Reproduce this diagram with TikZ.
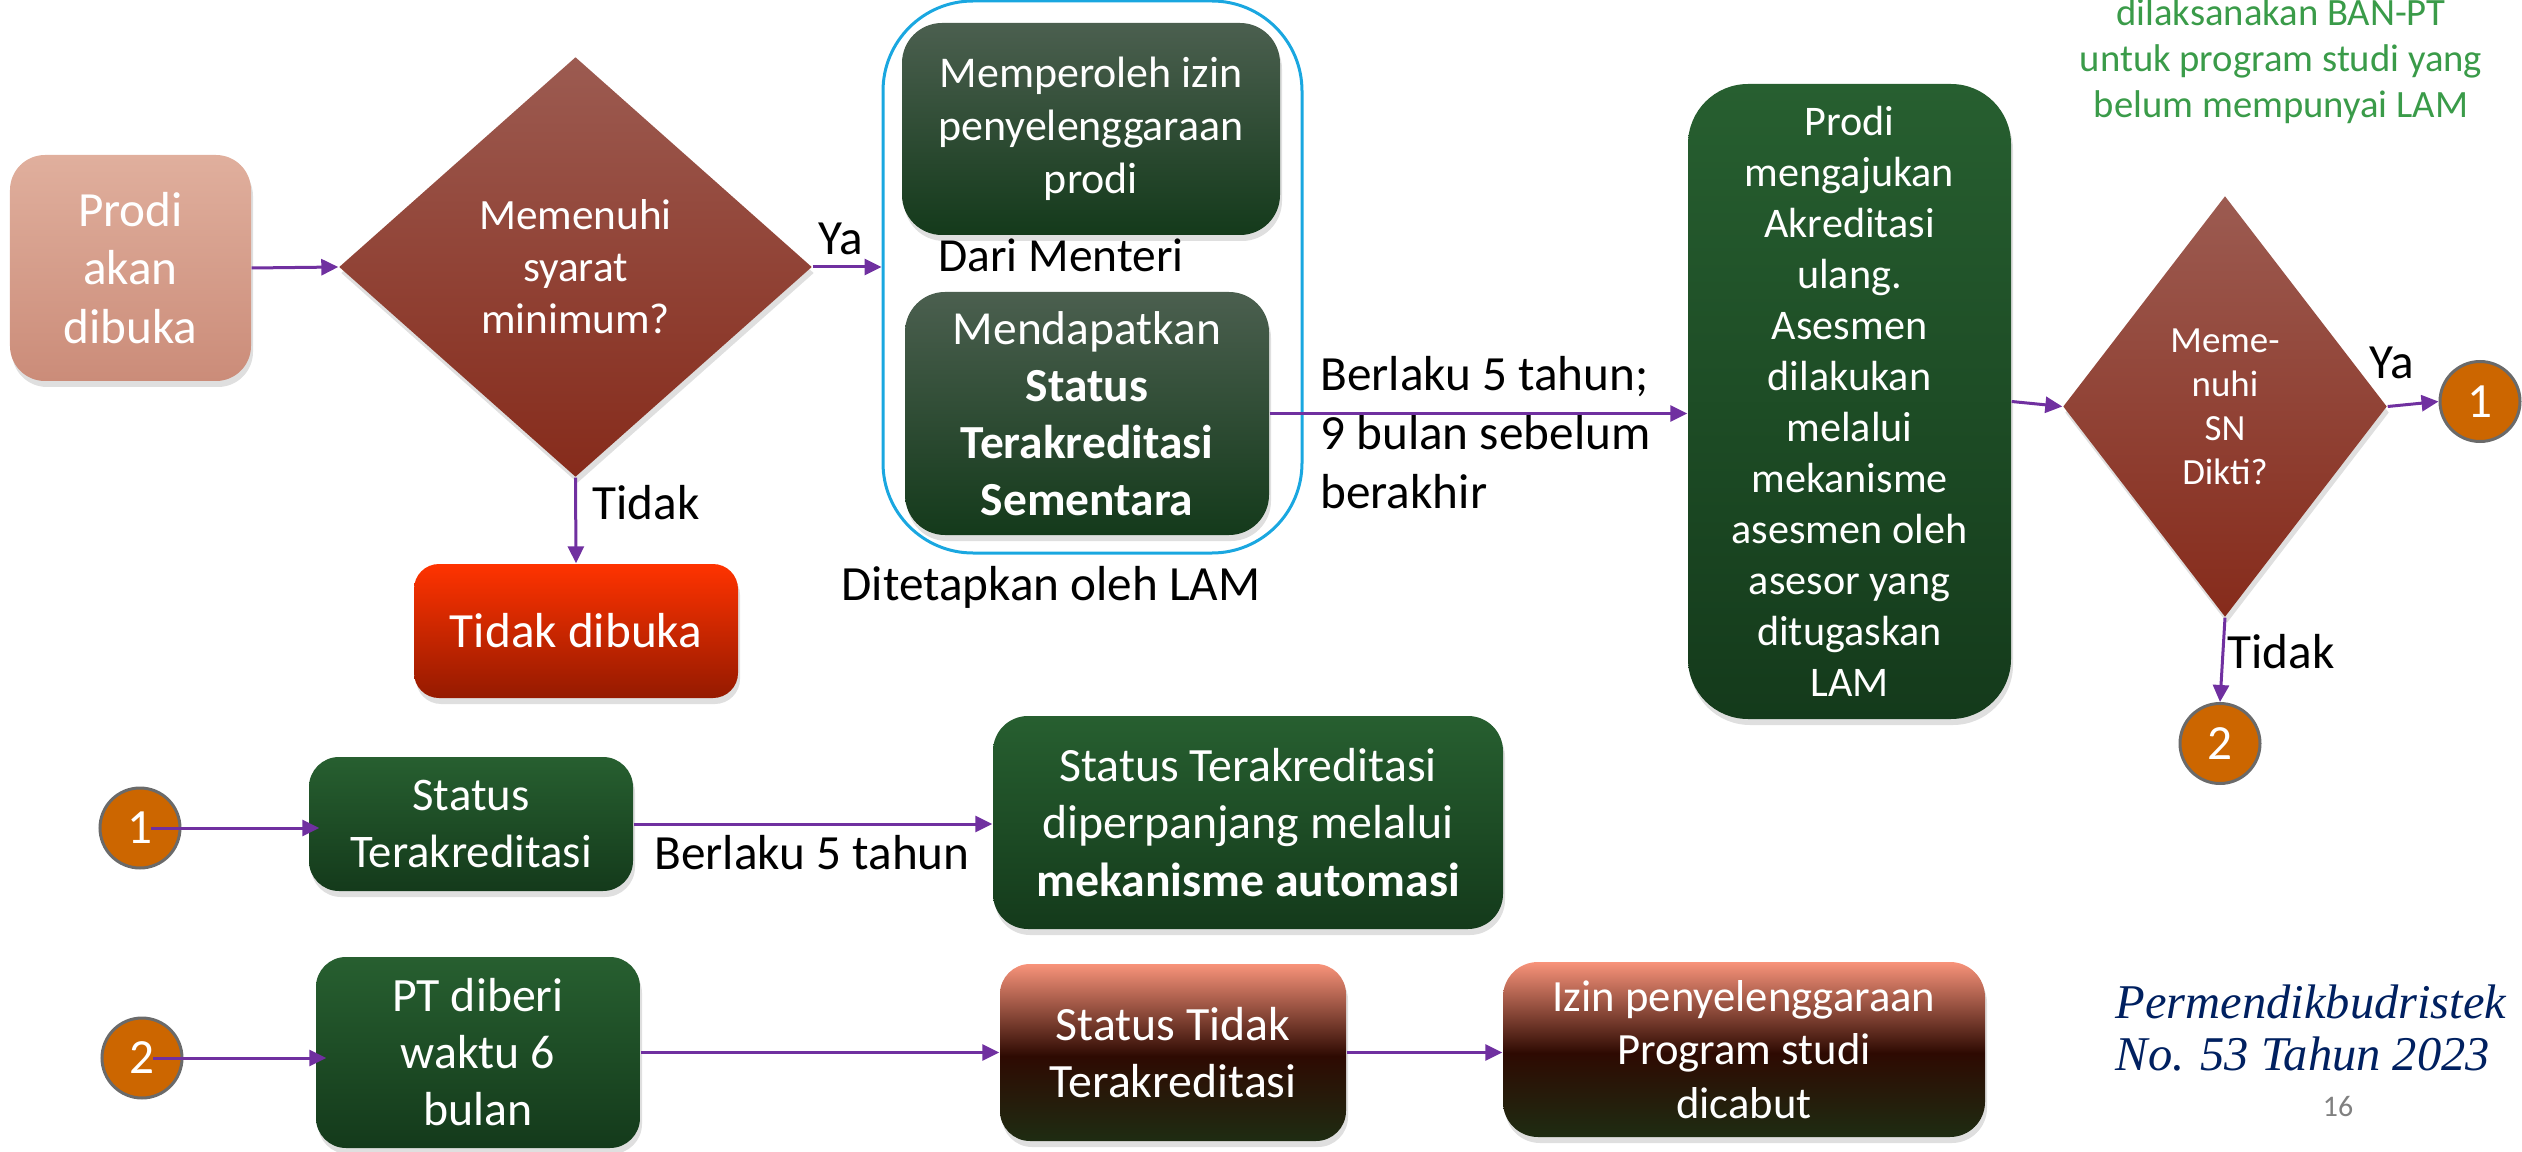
\documentclass[tikz,border=0pt]{standalone}
\usepackage{fontspec}
\setmainfont{Carlito}
\newfontfamily\lawfont{Liberation Serif}
\usepackage{xcolor}
\usepackage{tikz}
\usetikzlibrary{arrows.meta,positioning,shapes.geometric,shadows}
\definecolor{arrowpurple}{HTML}{7030A0}
\definecolor{groupblue}{HTML}{1AA7E0}
\definecolor{greentop}{HTML}{275F30}
\definecolor{greenbot}{HTML}{143A1B}
\definecolor{sagetop}{HTML}{4B5F4F}
\definecolor{decisiontop}{HTML}{9C5B51}
\definecolor{decisionbot}{HTML}{862B1B}
\definecolor{pinktop}{HTML}{E0AF9D}
\definecolor{pinkbot}{HTML}{CB8C79}
\definecolor{redtop}{HTML}{FF3300}
\definecolor{redbot}{HTML}{951A00}
\definecolor{revokedtop}{HTML}{F8937A}
\definecolor{revokedmid}{HTML}{2E0A02}
\definecolor{revokedbot}{HTML}{1E2C12}
\definecolor{markerfill}{HTML}{CC6600}
\definecolor{markerline}{HTML}{6A6A6A}
\definecolor{notegreen}{HTML}{3A9B49}
\definecolor{lawnavy}{HTML}{002060}
\pgfdeclareverticalshading{revoked}{100bp}{color(0bp)=(revokedbot); color(25bp)=(revokedbot); color(49bp)=(revokedmid); color(75bp)=(revokedtop); color(100bp)=(revokedtop)}
\tikzset{
  flowbox/.style={rounded corners=0.3cm, align=center, text=white, inner sep=3pt,
    drop shadow={shadow xshift=0.02cm, shadow yshift=-0.06cm, opacity=0.25}},
  greenbox/.style={flowbox, top color=greentop, bottom color=greenbot},
  sagebox/.style={flowbox, rounded corners=0.4cm, top color=sagetop, bottom color=greenbot},
  revokedbox/.style={flowbox, shade, shading=revoked},
  decision/.style={diamond, aspect=1, inner sep=0pt, align=center, text=white,
    top color=decisiontop, bottom color=decisionbot,
    drop shadow={shadow xshift=0.02cm, shadow yshift=-0.06cm, opacity=0.25}},
  marker/.style={circle, draw=markerline, line width=0.03cm, fill=markerfill, text=white,
    minimum size=0.8cm, inner sep=0pt, font=\fontsize{14}{16}\selectfont},
  flowarrow/.style={-{Triangle[length=0.17cm, width=0.16cm]}, draw=arrowpurple, line width=0.03cm},
  flowlabel/.style={align=left, font=\fontsize{14}{16.8}\selectfont}
}

\begin{document}
\begin{tikzpicture}[x=1cm, y=1cm]
  \useasboundingbox (0,0) rectangle (25.22,-11.52);
  \node[draw=groupblue, line width=0.03cm, rounded corners=0.9cm, minimum width=4.19cm, minimum height=5.52cm] (lam) at (10.925,-2.77) {};

  \node[flowbox, rounded corners=0.35cm, top color=pinktop, bottom color=pinkbot, minimum width=2.41cm, minimum height=2.26cm, font=\fontsize{14}{16.6}\selectfont] (prodi) at (1.305,-2.68) {Prodi\\akan\\dibuka};
  \node[decision, minimum width=4.73cm, minimum height=4.2cm, font=\fontsize{12.3}{14.8}\selectfont] (syarat) at (5.755,-2.67) {Memenuhi\\syarat\\minimum?};
  \node[flowbox, rounded corners=0.25cm, top color=redtop, bottom color=redbot, minimum width=3.24cm, minimum height=1.34cm, font=\fontsize{14}{16.8}\selectfont] (tutup) at (5.76,-6.31) {Tidak dibuka};
  \node[sagebox, minimum width=3.78cm, minimum height=2.12cm, font=\fontsize{12.5}{15.1}\selectfont] (izin) at (10.91,-1.29) {Memperoleh izin\\penyelenggaraan\\prodi};
  \node[flowlabel, font=\fontsize{13.5}{16}\selectfont] (menteri) at (10.61,-2.55) {Dari Menteri};
  \node[sagebox, minimum width=3.64cm, minimum height=2.43cm, font=\fontsize{13.5}{16.2}\selectfont] (sementara) at (10.87,-4.135) {Mendapatkan\\\textbf{Status}\\\textbf{Terakreditasi}\\\textbf{Sementara}};
  \node[flowlabel] (penetap) at (10.51,-5.87) {Ditetapkan oleh LAM};
  \node[flowlabel, anchor=west] (masa) at (13.08,-4.33) {Berlaku 5 tahun;\\9 bulan sebelum\\berakhir};
  \node[greenbox, rounded corners=0.6cm, minimum width=3.23cm, minimum height=6.35cm, font=\fontsize{12}{14.5}\selectfont] (ajukan) at (18.495,-4.015) {Prodi\\mengajukan\\Akreditasi\\ulang.\\Asesmen\\dilakukan\\melalui\\mekanisme\\asesmen oleh\\asesor yang\\ditugaskan\\LAM};
  \node[decision, minimum width=3.24cm, minimum height=4.21cm, font=\fontsize{10.5}{12.5}\selectfont] (sndikti) at (22.25,-4.065) {Meme-\\nuhi\\SN\\Dikti?};
  \node[marker] (lanjut) at (24.80,-4.015) {1};
  \node[marker] (gagal) at (22.20,-7.435) {2};
  \node[align=center, text=notegreen, font=\fontsize{11}{13.1}\selectfont] (catatan) at (22.81,-0.61) {dilaksanakan BAN-PT\\untuk program studi yang\\belum mempunyai LAM};
  \node[flowlabel] (ya1) at (8.41,-2.39) {Ya};
  \node[flowlabel] (tidak1) at (6.46,-5.03) {Tidak};
  \node[flowlabel] (ya2) at (23.92,-3.63) {Ya};
  \node[flowlabel] (tidak2) at (22.81,-6.52) {Tidak};

  \node[marker] (lanjutB) at (1.40,-8.28) {1};
  \node[greenbox, minimum width=3.24cm, minimum height=1.34cm, font=\fontsize{13.3}{16}\selectfont] (status) at (4.71,-8.24) {Status\\Terakreditasi};
  \node[greenbox, rounded corners=0.35cm, minimum width=5.10cm, minimum height=2.13cm, font=\fontsize{13.6}{16.4}\selectfont] (perpanjang) at (12.48,-8.225) {Status Terakreditasi\\diperpanjang melalui\\\textbf{mekanisme automasi}};
  \node[flowlabel] (masaB) at (8.12,-8.53) {Berlaku 5 tahun};
  \node[marker] (gagalB) at (1.42,-10.58) {2};
  \node[greenbox, minimum width=3.24cm, minimum height=1.91cm, font=\fontsize{13.6}{16.2}\selectfont] (waktu) at (4.78,-10.525) {PT diberi\\waktu 6\\bulan};
  \node[revokedbox, minimum width=3.46cm, minimum height=1.77cm, font=\fontsize{13.6}{16.2}\selectfont] (tdkstatus) at (11.73,-10.525) {Status Tidak\\Terakreditasi};
  \node[revokedbox, rounded corners=0.35cm, minimum width=4.82cm, minimum height=1.75cm, font=\fontsize{12.7}{15.2}\selectfont] (cabut) at (17.44,-10.495) {Izin penyelenggaraan\\Program studi\\dicabut};
  \node[anchor=west, align=left, text=lawnavy, inner sep=0pt, font=\lawfont\itshape\fontsize{13.8}{14.8}\selectfont] (dasar) at (21.15,-10.28) {Permendikbudristek\\No. 53 Tahun 2023};
  \node[text=gray, font=\fontsize{8.5}{10}\selectfont] (hal) at (23.38,-11.07) {16};

  \draw[flowarrow] (prodi.east) -- (syarat.west);
  \draw[flowarrow] (syarat.east) -- (syarat.east -| lam.west);
  \draw[flowarrow] (syarat.south) -- (tutup.north);
  \draw[flowarrow] (sementara.east) -- (sementara.east -| ajukan.west);
  \draw[flowarrow] (ajukan.east) -- (sndikti.west);
  \draw[flowarrow] (sndikti.east) -- (lanjut.west);
  \draw[flowarrow] (sndikti.south) -- (gagal.north);
  \draw[flowarrow] ([xshift=0.11cm]lanjutB.center) -- ([xshift=0.11cm]lanjutB.center -| status.west);
  \draw[flowarrow] (status.east) -- (status.east -| perpanjang.west);
  \draw[flowarrow] ([xshift=0.11cm]gagalB.center) -- ([xshift=0.11cm]gagalB.center -| waktu.west);
  \draw[flowarrow] (waktu.east) -- (waktu.east -| tdkstatus.west);
  \draw[flowarrow] (tdkstatus.east) -- (tdkstatus.east -| cabut.west);
\end{tikzpicture}
\end{document}
